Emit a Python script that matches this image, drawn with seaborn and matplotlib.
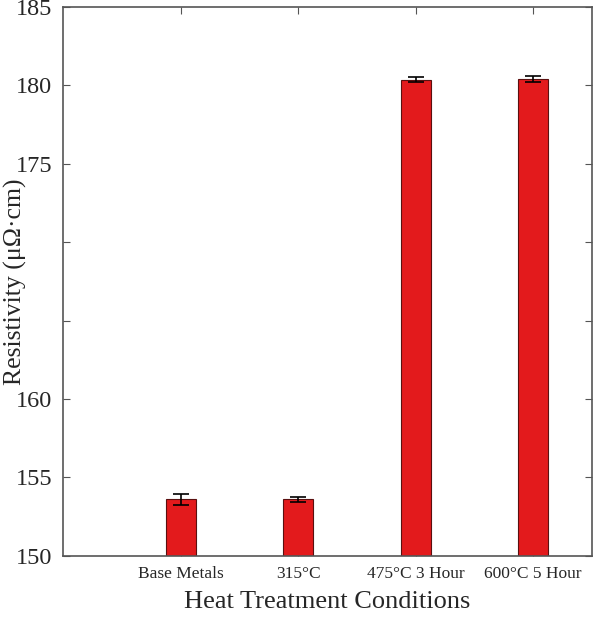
#Bar chart of resistivity after heat treatment

import matplotlib
matplotlib.use('Agg')
import matplotlib.pyplot as plt
import numpy as np
import pandas as pd
import seaborn as sb

#Data
conditions = ['Base Metals', '315°C', '475°C 3 Hour', '600°C 5 Hour']
resistivity = [153.6, 153.6, 180.34, 180.38]
errors = [0.34, 0.16, 0.16, 0.2]

df = pd.DataFrame({'Condition': conditions, 'Resistivity': resistivity})

sb.set_style('white')
plt.rcParams['font.family'] = ['Liberation Serif', 'DejaVu Serif']

fig = plt.figure(figsize=(5.96, 6.19), dpi=100)
ax = fig.add_axes([0.106, 0.102, 0.887, 0.887])

sb.barplot(data=df, x='Condition', y='Resistivity', color='#e31a1c',
           saturation=1, width=0.255, edgecolor='#5a1010', linewidth=0.8, ax=ax)
ax.errorbar(np.arange(len(conditions)), resistivity, yerr=errors, fmt='none',
            ecolor='black', elinewidth=1.2, capsize=6, capthick=1.2)

ax.set_xlim(-1, 3.5)
ax.set_ylim(150, 185)
ax.set_yticks([150, 155, 160, 165, 170, 175, 180, 185])
ax.set_yticklabels(['150', '155', '160', '', '', '175', '180', '185'])
ax.tick_params(axis='y', labelsize=17.5, direction='in', length=5, left=True,
               right=True, color='#555555', pad=8)
ax.tick_params(axis='x', labelsize=12.5, direction='in', length=5, bottom=True,
               top=True, color='#555555', pad=7)

for s in ax.spines.values():
    s.set_color('#555555')
    s.set_linewidth(1.2)

ax.set_xlabel('Heat Treatment Conditions', fontsize=19, labelpad=7)
ax.set_ylabel('Resistivity (μΩ·cm)', fontsize=18.5)
# label sits over the unlabelled 165/170 ticks, as in the original
ax.yaxis.set_label_coords(-0.068, 0.5)

plt.savefig('out.png', dpi=100)
